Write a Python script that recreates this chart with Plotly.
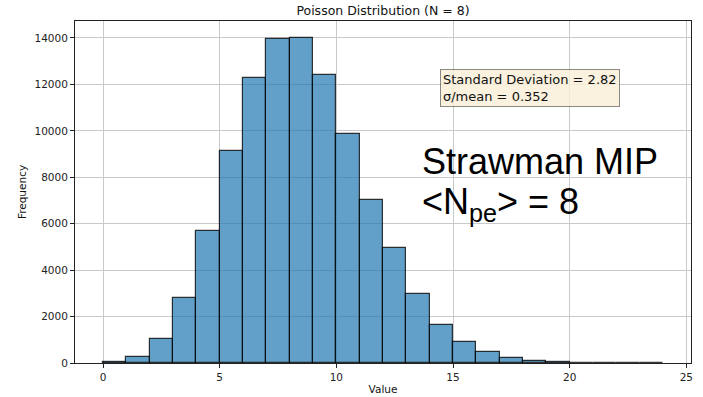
import plotly.graph_objects as go

# Histogram of Poisson samples (N = 8), unit-width bins from 0 to 24
bin_left = list(range(0, 24))
counts = [35, 255, 1035, 2790, 5690, 9130, 12290, 13945, 14015, 12410,
          9865, 7020, 4965, 2985, 1625, 890, 460, 215, 95, 40, 15, 6, 2, 1]
x_ticks = [0, 5, 10, 15, 20, 25]
y_ticks = [0, 2000, 4000, 6000, 8000, 10000, 12000, 14000]

title_text = "Poisson Distribution (N = 8)"
stats_text = "Standard Deviation = 2.82<br>σ/mean = 0.352"
big_line1 = "Strawman MIP"
big_line2 = "<N<sub>pe</sub>> = 8"

fig = go.Figure()
fig.add_trace(go.Bar(
    x=[b + 0.5 for b in bin_left],
    y=counts,
    width=1.0,
    marker=dict(color="rgba(31,119,180,0.7)",
                line=dict(color="rgba(0,0,0,0.78)", width=1.2)),
    showlegend=False,
))

tick_font = dict(family="DejaVu Sans", size=10.5, color="#222")
fig.update_layout(
    width=703, height=397,
    margin=dict(l=75, r=12, t=21, b=34, autoexpand=False),
    plot_bgcolor="white", paper_bgcolor="white",
    bargap=0,
    title=dict(text=title_text, x=(75 + 691) / 2 / 703, xanchor="center",
               y=1 - 11 / 397, yanchor="middle",
               font=dict(family="DejaVu Sans", size=12.5, color="#111")),
    xaxis=dict(range=[-1.2, 25.2], tickvals=x_ticks, showgrid=True, automargin=False,
               gridcolor="#c9c9c9", gridwidth=1, zeroline=False,
               showline=True, linecolor="#222", linewidth=1, mirror=True,
               ticks="outside", ticklen=4, tickcolor="#222", tickfont=tick_font,
               title=dict(text="Value", standoff=4,
                          font=dict(family="DejaVu Sans", size=10.5, color="#111"))),
    yaxis=dict(range=[0, 14730], tickvals=y_ticks, tickformat="d", showgrid=True,
               automargin=False,
               gridcolor="#c9c9c9", gridwidth=1, zeroline=False,
               showline=True, linecolor="#222", linewidth=1, mirror=True,
               ticks="outside", ticklen=4, tickcolor="#222", tickfont=tick_font,
               title=dict(text="Frequency", standoff=5,
                          font=dict(family="DejaVu Sans", size=10.5, color="#111"))),
)

fig.add_annotation(
    xref="paper", yref="paper",
    x=(440 - 75) / 616, y=(363 - 69) / 342,
    xanchor="left", yanchor="top", align="left",
    text=stats_text, showarrow=False,
    font=dict(family="DejaVu Sans", size=13, color="#111"),
    bgcolor="rgba(249,238,217,0.85)", bordercolor="rgba(0,0,0,0.45)",
    borderwidth=1, borderpad=2,
)
fig.add_annotation(
    xref="paper", yref="paper",
    x=(420 - 75) / 616, y=(363 - 162) / 342,
    xanchor="left", yanchor="middle", align="left",
    text=big_line1, showarrow=False,
    font=dict(family="Liberation Sans, Arial", size=36, color="black"),
)
fig.add_annotation(
    xref="paper", yref="paper",
    x=(420 - 75) / 616, y=(363 - 204) / 342,
    xanchor="left", yanchor="middle", align="left",
    text=big_line2, showarrow=False,
    font=dict(family="Liberation Sans, Arial", size=36, color="black"),
)

fig.write_html("out.html", config={"displayModeBar": False},
               post_script="document.body.style.margin='0';document.body.style.overflow='hidden';")
